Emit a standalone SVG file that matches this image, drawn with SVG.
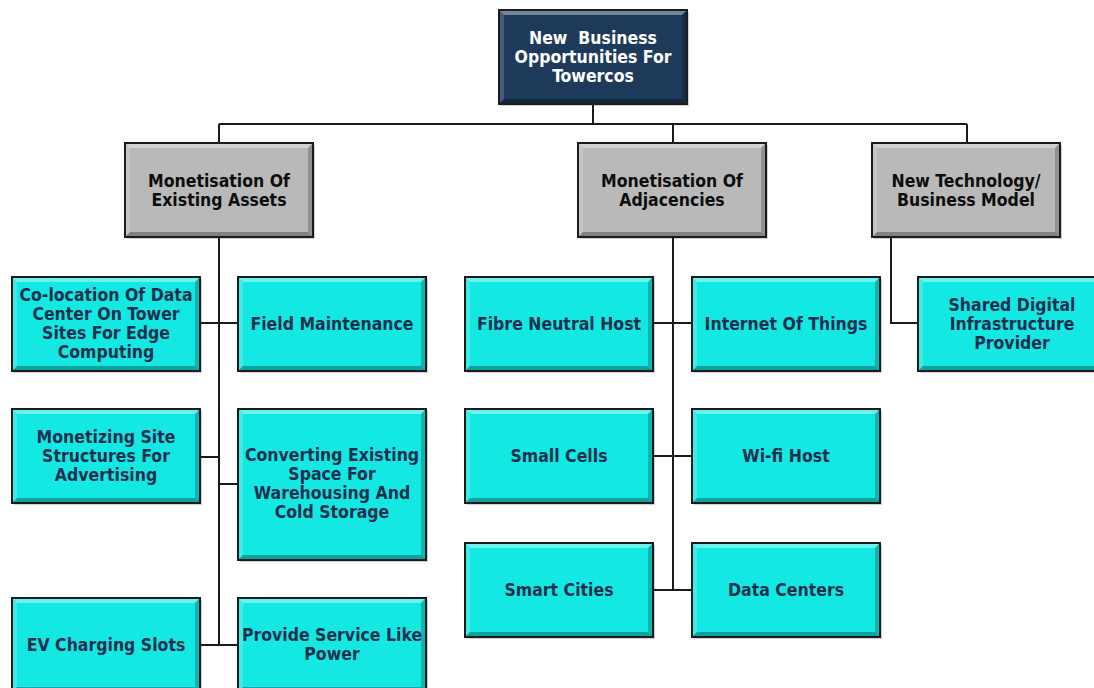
<svg xmlns="http://www.w3.org/2000/svg" xmlns:xlink="http://www.w3.org/1999/xlink" width="1094" height="688" viewBox="0 0 1094 688">
<style>
  .cy{fill:#14e8e2}
  .gr{fill:#b9b9b9}
  .nv{fill:#1d3a5b}
  .bt{fill:#ffffff;fill-opacity:.38}
  .bl{fill:#ffffff;fill-opacity:.18}
  .bb{fill:#000000;fill-opacity:.3}
  .br{fill:#000000;fill-opacity:.22}
  .bd{fill:none;stroke:#1b1b1b;stroke-width:2}
  .sh{fill:#000;fill-opacity:.18}
  text{font-family:"DejaVu Sans Condensed","DejaVu Sans",sans-serif;font-weight:bold;font-size:17.5px;text-anchor:middle}
  .tc{fill:#1b2f4f}
  .tg{fill:#0d0d0d}
  .tw{fill:#ffffff}
  .pre{white-space:pre}
  .ln{fill:none;stroke:#1a1a1a;stroke-width:2}
</style>
<defs>
  <g id="bev94">
    <path class="bt" d="M0,0h188l-5,5h-178z"/>
    <path class="bl" d="M0,0v94l5,-5v-84z"/>
    <path class="bb" d="M0,94h188l-5,-5h-178z"/>
    <path class="br" d="M188,0v94l-5,-5v-84z"/>
    <rect class="bd" width="188" height="94"/>
  </g>
  <g id="bev151">
    <path class="bt" d="M0,0h188l-5,5h-178z"/>
    <path class="bl" d="M0,0v151l5,-5v-141z"/>
    <path class="bb" d="M0,151h188l-5,-5h-178z"/>
    <path class="br" d="M188,0v151l-5,-5v-141z"/>
    <rect class="bd" width="188" height="151"/>
  </g>
</defs>

<g id="connectors">
  <path class="ln" d="M593,104V124M219,124H967M219,124V143M673,124V143M967,124V143"/>
  <path class="ln" d="M219,237V645M200,323H238M200,457H219M219,484H238M200,645H238"/>
  <path class="ln" d="M673,237V590M654,323H692M654,456H692M654,590H692"/>
  <path class="ln" d="M891,237V323H918"/>
</g>

<g id="root" transform="translate(499,10)">
  <rect class="sh" x="2" y="2" width="188" height="94"/>
  <rect class="nv" width="188" height="94"/>
  <use href="#bev94"/>
  <text class="tw pre" x="94" y="34" xml:space="preserve">New  Business</text>
  <text class="tw" x="94" y="53">Opportunities For</text>
  <text class="tw" x="94" y="72">Towercos</text>
</g>

<g id="existing-assets" transform="translate(125,143)">
  <rect class="sh" x="2" y="2" width="188" height="94"/>
  <rect class="gr" width="188" height="94"/>
  <use href="#bev94"/>
  <text class="tg" x="94" y="44">Monetisation Of</text>
  <text class="tg" x="94" y="63">Existing Assets</text>
</g>

<g id="adjacencies" transform="translate(578,143)">
  <rect class="sh" x="2" y="2" width="188" height="94"/>
  <rect class="gr" width="188" height="94"/>
  <use href="#bev94"/>
  <text class="tg" x="94" y="44">Monetisation Of</text>
  <text class="tg" x="94" y="63">Adjacencies</text>
</g>

<g id="new-tech" transform="translate(872,143)">
  <rect class="sh" x="2" y="2" width="188" height="94"/>
  <rect class="gr" width="188" height="94"/>
  <use href="#bev94"/>
  <text class="tg" x="94" y="44">New Technology/</text>
  <text class="tg" x="94" y="63">Business Model</text>
</g>

<g id="colocation" transform="translate(12,277)">
  <rect class="sh" x="2" y="2" width="188" height="94"/>
  <rect class="cy" width="188" height="94"/>
  <use href="#bev94"/>
  <text class="tc" x="94" y="24">Co-location Of Data</text>
  <text class="tc" x="94" y="43">Center On Tower</text>
  <text class="tc" x="94" y="62">Sites For Edge</text>
  <text class="tc" x="94" y="81">Computing</text>
</g>

<g id="field-maintenance" transform="translate(238,277)">
  <rect class="sh" x="2" y="2" width="188" height="94"/>
  <rect class="cy" width="188" height="94"/>
  <use href="#bev94"/>
  <text class="tc" x="94" y="53">Field Maintenance</text>
</g>

<g id="advertising" transform="translate(12,409)">
  <rect class="sh" x="2" y="2" width="188" height="94"/>
  <rect class="cy" width="188" height="94"/>
  <use href="#bev94"/>
  <text class="tc" x="94" y="34">Monetizing Site</text>
  <text class="tc" x="94" y="53">Structures For</text>
  <text class="tc" x="94" y="72">Advertising</text>
</g>

<g id="warehousing" transform="translate(238,409)">
  <rect class="sh" x="2" y="2" width="188" height="151"/>
  <rect class="cy" width="188" height="151"/>
  <use href="#bev151"/>
  <text class="tc" x="94" y="52">Converting Existing</text>
  <text class="tc" x="94" y="71">Space For</text>
  <text class="tc" x="94" y="90">Warehousing And</text>
  <text class="tc" x="94" y="109">Cold Storage</text>
</g>

<g id="ev-charging" transform="translate(12,598)">
  <rect class="sh" x="2" y="2" width="188" height="94"/>
  <rect class="cy" width="188" height="94"/>
  <use href="#bev94"/>
  <text class="tc" x="94" y="53">EV Charging Slots</text>
</g>

<g id="power" transform="translate(238,598)">
  <rect class="sh" x="2" y="2" width="188" height="94"/>
  <rect class="cy" width="188" height="94"/>
  <use href="#bev94"/>
  <text class="tc" x="94" y="43">Provide Service Like</text>
  <text class="tc" x="94" y="62">Power</text>
</g>

<g id="fibre" transform="translate(465,277)">
  <rect class="sh" x="2" y="2" width="188" height="94"/>
  <rect class="cy" width="188" height="94"/>
  <use href="#bev94"/>
  <text class="tc" x="94" y="53">Fibre Neutral Host</text>
</g>

<g id="iot" transform="translate(692,277)">
  <rect class="sh" x="2" y="2" width="188" height="94"/>
  <rect class="cy" width="188" height="94"/>
  <use href="#bev94"/>
  <text class="tc" x="94" y="53">Internet Of Things</text>
</g>

<g id="small-cells" transform="translate(465,409)">
  <rect class="sh" x="2" y="2" width="188" height="94"/>
  <rect class="cy" width="188" height="94"/>
  <use href="#bev94"/>
  <text class="tc" x="94" y="53">Small Cells</text>
</g>

<g id="wifi" transform="translate(692,409)">
  <rect class="sh" x="2" y="2" width="188" height="94"/>
  <rect class="cy" width="188" height="94"/>
  <use href="#bev94"/>
  <text class="tc" x="94" y="53">Wi-fi Host</text>
</g>

<g id="smart-cities" transform="translate(465,543)">
  <rect class="sh" x="2" y="2" width="188" height="94"/>
  <rect class="cy" width="188" height="94"/>
  <use href="#bev94"/>
  <text class="tc" x="94" y="53">Smart Cities</text>
</g>

<g id="data-centers" transform="translate(692,543)">
  <rect class="sh" x="2" y="2" width="188" height="94"/>
  <rect class="cy" width="188" height="94"/>
  <use href="#bev94"/>
  <text class="tc" x="94" y="53">Data Centers</text>
</g>

<g id="shared-digital" transform="translate(918,277)">
  <rect class="sh" x="2" y="2" width="188" height="94"/>
  <rect class="cy" width="188" height="94"/>
  <use href="#bev94"/>
  <text class="tc" x="94" y="34">Shared Digital</text>
  <text class="tc" x="94" y="53">Infrastructure</text>
  <text class="tc" x="94" y="72">Provider</text>
</g>
</svg>
